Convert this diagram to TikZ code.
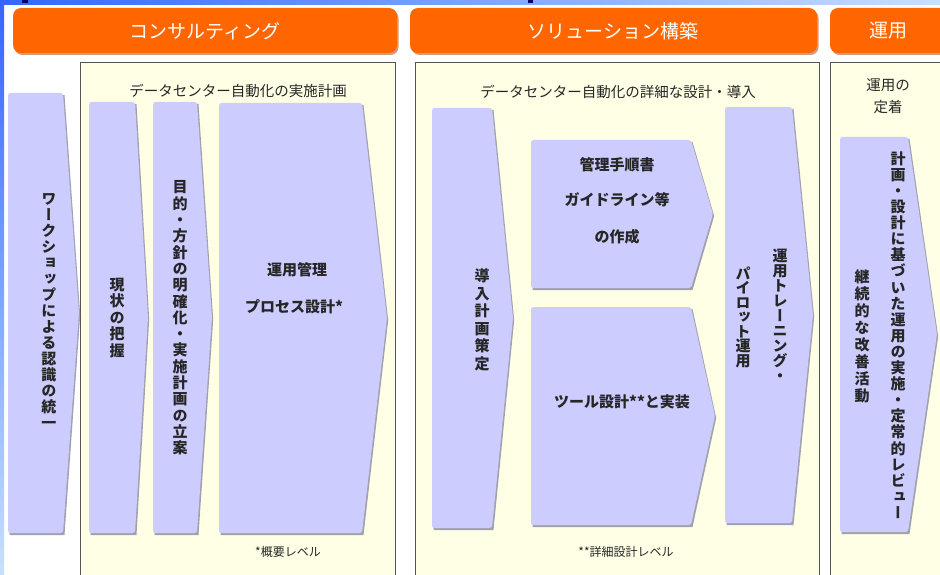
\documentclass[tikz,border=0pt]{standalone}
\usepackage{fontspec}
\newfontfamily\jp{Noto Sans CJK JP}
\newfontfamily\jpv{Noto Sans CJK JP}[RawFeature=+vert]
\definecolor{hdr}{HTML}{FF6600}
\definecolor{hdrsh}{HTML}{B04A10}
\definecolor{panel}{HTML}{FFFFE6}
\definecolor{pborder}{HTML}{555555}
\definecolor{chev}{HTML}{CCCCFF}
\definecolor{chevsh}{HTML}{8A8AA0}
\definecolor{txt}{HTML}{262626}
\definecolor{bluedark}{HTML}{3366FF}
\definecolor{bluelight}{HTML}{C8E0FF}
\makeatletter
\newcommand\vtext[2]{\vbox{\baselineskip=#1\lineskiplimit=-\maxdimen\lineskip=0pt\vt@loop#2\vt@end}}
\def\vt@end{\vt@end}
\def\vt@loop#1{\ifx#1\vt@end\else\hbox to 1.1em{\hss#1\hss}\expandafter\vt@loop\fi}
\makeatother
% L T R tip B
\newcommand\chevron[5]{%
  \fill[chevsh,opacity=.8] ({#1+1.5},{#2+2}) -- ({#3+1.5},{#2+2}) -- ({#4+1.2},{(#2+#5)/2+2}) -- ({#3+1.5},{#5+2}) -- ({#1+1.5},{#5+2}) -- cycle;
  \fill[chev, rounded corners=2.5] (#1,#2) -- (#3,#2) -- (#4,{(#2+#5)/2}) -- (#3,#5) -- (#1,#5) -- cycle;}
\tikzset{
  hdrtext/.style={text=white, font=\jp\fontsize{19}{22}\selectfont, inner sep=0},
  ttl/.style={text=txt, font=\jp\fontsize{14.5}{22}\selectfont, inner sep=0},
  ctext/.style={text=txt, font=\jp\bfseries\fontsize{15}{18}\selectfont, inner sep=0},
  vtxt/.style={text=txt, font=\jpv\bfseries\fontsize{15}{16}\selectfont, inner sep=0},
  note/.style={text=txt, font=\jp\fontsize{12}{14}\selectfont, inner sep=0},
  panelbox/.style={fill=panel, draw=pborder, line width=0.9pt},
  hdrbar/.style={fill=hdr, rounded corners=8},
  hdrshadow/.style={fill=hdrsh, opacity=.55, rounded corners=8},
}
\begin{document}
\begin{tikzpicture}[x=1pt,y=-1pt]
\useasboundingbox (0,0) rectangle (940,575);
\clip (0,0) rectangle (940,575);
\fill[white] (0,0) rectangle (940,575);
% blue edges
\shade[left color=bluedark, right color=bluelight] (0,0) rectangle (940,4.5);
\shade[top color=bluedark, bottom color=bluelight] (0,0) rectangle (4,575);
\fill[blue!40!black] (22,0) rectangle (28,3);
\fill[blue!40!black] (528,0) rectangle (533,3);
% header bars
\fill[hdrshadow] (14.5,10) rectangle (398.5,55);
\fill[hdrbar] (13,8) rectangle (397,53);
\fill[hdrshadow] (411.5,10) rectangle (818.5,55);
\fill[hdrbar] (410,8) rectangle (817,53);
\fill[hdrshadow] (831.5,10) rectangle (960,55);
\fill[hdrbar] (830,8) rectangle (960,53);
\node[hdrtext] (h1) at (205,31) {コンサルティング};
\node[hdrtext] (h2) at (613,31) {ソリューション構築};
\node[hdrtext] (h3) at (888,31) {運用};
% panels
\draw[panelbox] (80,62) rectangle (395,600);
\draw[panelbox] (415,62) rectangle (819,600);
\draw[panelbox] (830,62) rectangle (960,600);
\node[ttl] (t1) at (238,91) {データセンター自動化の実施計画};
\node[ttl] (t2) at (618,92) {データセンター自動化の詳細な設計・導入};
\node[ttl, align=center] (t3) at (888,96) {運用の\\定着};
% consulting chevrons
\chevron{8}{93}{63}{79}{533}
\node[vtxt] (c1) at (49,311) {\vtext{16pt}{ワークショップによる認識の統一}};
\chevron{89}{102}{135}{148}{533}
\node[vtxt] (c2) at (117,318) {\vtext{16.5pt}{現状の把握}};
\chevron{153}{102}{197}{212}{533}
\node[vtxt] (c3) at (180,318) {\vtext{16.3pt}{目的・方針の明確化・実施計画の立案}};
\chevron{219}{103}{362}{387}{533}
\node[ctext] (c4a) at (297,270) {運用管理};
\node[ctext] (c4b) at (294,307) {プロセス設計*};
\node[note] (n1) at (288,552) {*概要レベル};
% solution chevrons
\chevron{432}{108}{492}{513}{528}
\node[vtxt] (c5) at (482,320) {\vtext{17.5pt}{導入計画策定}};
\chevron{531}{140}{691}{713}{288}
\node[ctext] (c6a) at (617,165) {管理手順書};
\node[ctext] (c6b) at (617,200) {ガイドライン等};
\node[ctext] (c6c) at (617,237) {の作成};
\chevron{531}{307}{691}{715}{525}
\node[ctext] (c7) at (622,402) {ツール設計**と実装};
\chevron{725}{107}{792}{813}{523}
\node[vtxt] (c8a) at (780,315) {\vtext{15pt}{運用トレーニング・}};
\node[vtxt] (c8b) at (743,317) {\vtext{14.5pt}{パイロット運用}};
\node[note] (n2) at (626,552) {**詳細設計レベル};
% operation chevron
\chevron{840}{137}{908}{937}{532}
\node[vtxt] (c9a) at (898,335) {\vtext{16.1pt}{計画・設計に基づいた運用の実施・定常的レビュー}};
\node[vtxt] (c9b) at (862,336) {\vtext{17pt}{継続的な改善活動}};
\end{tikzpicture}
\end{document}
